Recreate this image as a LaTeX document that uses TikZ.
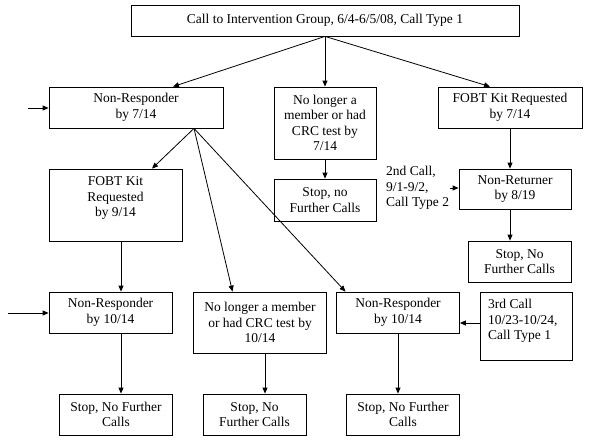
\documentclass[tikz,border=0pt]{standalone}
\usepackage{fontspec}
\setmainfont{Liberation Serif}
\usetikzlibrary{arrows.meta,calc}
\newcommand{\myfs}{\fontsize{13.5}{15.5}\selectfont}
\begin{document}
\begin{tikzpicture}[x=1pt,y=-1pt,
  box/.style={draw=black, line width=0.8pt, inner sep=0pt, align=center, font=\myfs},
  txt/.style={inner sep=1pt, font=\myfs},
  arr/.style={draw=black, line width=0.8pt, -{Triangle[length=6pt,width=5pt]}}]
\useasboundingbox (0,0) rectangle (600,442);
% nodes
\node[box, minimum width=388, minimum height=31] (top) at (325,20.5) {Call to Intervention Group, 6/4-6/5/08, Call Type 1};
\node[box, minimum width=174, minimum height=41] (nr1) at (136,107.5) {Non-Responder\\by 7/14};
\node[box, minimum width=102, minimum height=72] (mid1) at (325,123) {No longer a\\member or had\\CRC test by\\7/14};
\node[box, minimum width=144, minimum height=41] (fobt1) at (510,107.5) {FOBT Kit Requested\\by 7/14};
\node[box, minimum width=102, minimum height=42] (stop1) at (325,200) {Stop, no\\Further Calls};
\node[box, minimum width=112, minimum height=40] (nret) at (515,189) {Non-Returner\\by 8/19};
\node[box, minimum width=103, minimum height=41] (stop2) at (519.5,261.5) {Stop, No\\Further Calls};
\node[txt, anchor=west, align=left] (call2) at (385,188) {2nd Call,\\9/1-9/2,\\Call Type 2};
\node[box, minimum width=133, minimum height=72] (fobt2) at (115.5,205) {};
\node[txt, align=center] (fobt2t) at (115.5,198) {FOBT Kit\\Requested\\by 9/14};
\node[box, minimum width=123, minimum height=41] (nr2) at (110.5,312.5) {Non-Responder\\by 10/14};
\node[box, minimum width=113, minimum height=41] (stop3) at (116,414.5) {Stop, No Further\\Calls};
\node[box, minimum width=133, minimum height=61] (mid2) at (260,322.5) {No longer a member\\or had CRC test by\\10/14};
\node[box, minimum width=103, minimum height=41] (stop4) at (254.5,414.5) {Stop, No\\Further Calls};
\node[box, minimum width=123, minimum height=41] (nr3) at (398,312.5) {Non-Responder\\by 10/14};
\node[box, minimum width=113, minimum height=41] (stop5) at (403,414.5) {Stop, No Further\\Calls};
\node[box, minimum width=92, minimum height=68] (call3) at (526,326) {};
\node[txt, anchor=west, align=left] (call3t) at (487,321) {3rd Call\\10/23-10/24,\\Call Type 1};
% connectors
\coordinate (in1) at (28,108);
\draw[arr] (in1) -- (in1 -| nr1.west);
\coordinate (in2) at (8,313);
\draw[arr] (in2) -- (in2 -| nr2.west);
\draw[arr] (top.south) -- ($(nr1.north)+(37,0)$);
\draw[arr] (top.south) -- (mid1.north);
\draw[arr] (top.south) -- ($(fobt1.north)+(-20,0)$);
\draw[arr] (mid1.south) -- (stop1.north);
\draw[arr] (fobt1.south) -- (fobt1.south |- nret.north);
\coordinate (r2) at (nret.south -| fobt1.south);
\draw[arr] (r2) -- (r2 |- stop2.north);
\draw[arr] (call2.east) -- (call2.east -| nret.west);
\coordinate (f) at ($(nr1.south)+(58,0)$);
\draw[arr] (f) -- ($(fobt2.north)+(36.5,0)$);
\draw[arr] (f) -- ($(mid2.north)+(-27.5,0)$);
\draw[arr] (f) -- ($(nr3.north)+(-52.5,0)$);
\coordinate (a1) at ($(fobt2.south)+(5.5,0)$);
\draw[arr] (a1) -- (a1 |- nr2.north);
\coordinate (a2) at ($(nr2.south)+(10.5,0)$);
\draw[arr] (a2) -- (a2 |- stop3.north);
\coordinate (a3) at ($(mid2.south)+(5,0)$);
\draw[arr] (a3) -- (a3 |- stop4.north);
\draw[arr] (nr3.south) -- (nr3.south |- stop5.north);
\coordinate (c3) at ($(call3.west)+(0,-3)$);
\draw[arr] (c3) -- (c3 -| nr3.east);
\end{tikzpicture}
\end{document}
